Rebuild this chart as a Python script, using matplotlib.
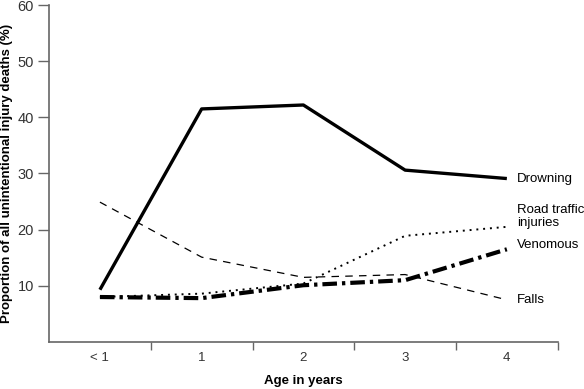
import matplotlib
matplotlib.use("Agg")
import matplotlib.pyplot as plt

categories = ["< 1", "1", "2", "3", "4"]
drowning = [9.3, 41.5, 42.2, 30.6, 29.1]
road_traffic = [8.0, 8.6, 10.4, 18.9, 20.5]
venomous = [8.0, 7.8, 10.1, 11.0, 16.5]
falls = [24.9, 15.1, 11.5, 12.0, 7.5]
y_ticks = [10, 20, 30, 40, 50, 60]

plt.rcParams['font.family'] = ['Liberation Sans', 'DejaVu Sans']
fig = plt.figure(figsize=(5.84, 3.89), dpi=100)
ax = fig.add_axes([0.084, 0.121, 0.871, 0.866])
x = list(range(len(categories)))

ax.plot(x, drowning, color='black', lw=2.4, solid_capstyle='butt')
ax.plot(x, road_traffic, color='black', lw=1.4, linestyle=(0, (1, 2.5)))
ax.plot(x, venomous, color='black', lw=3.0, linestyle=(0, (3.5, 1.2, 0.8, 1.2)))
ax.plot(x, falls, color='black', lw=0.9, linestyle=(0, (6, 5)))

lab_x = 4.1
ax.text(lab_x, drowning[-1], "Drowning", va='center', ha='left', fontsize=9.5)
ax.text(lab_x, 22.3, "Road traffic\ninjuries", va='center', ha='left', fontsize=9.5, linespacing=1.1)
ax.text(lab_x, venomous[-1] + 0.8, "Venomous", va='center', ha='left', fontsize=9.5)
ax.text(lab_x, falls[-1] - 0.1, "Falls", va='center', ha='left', fontsize=9.5)

ax.set_xlim(-0.5, 4.5)
ax.set_ylim(0, 60)
ax.set_yticks(y_ticks)
ax.set_yticklabels([str(t) for t in y_ticks], fontsize=10.5, color='#333333')
ax.set_xticks([i + 0.5 for i in x])
ax.set_xticklabels([])
ax.set_xticks(x, minor=True)
ax.set_xticklabels(categories, minor=True, fontsize=9.5, color='#333333')
ax.tick_params(axis='x', which='minor', length=0, pad=7)
ax.tick_params(axis='x', which='major', length=6, width=1, color='#666666')
ax.tick_params(axis='y', length=8, width=1, color='#666666', pad=3)
for s in ['top', 'right']:
    ax.spines[s].set_visible(False)
for s in ['left', 'bottom']:
    ax.spines[s].set_color('#666666')
    ax.spines[s].set_linewidth(1.2)
ax.set_xlabel("Age in years", fontsize=9.5, fontweight='bold', labelpad=8)
ax.set_ylabel("Proportion of all unintentional injury deaths (%)", fontsize=9.5, fontweight='bold')
ax.yaxis.set_label_coords(-0.07, 0.5)
fig.savefig("out.png", dpi=100)
